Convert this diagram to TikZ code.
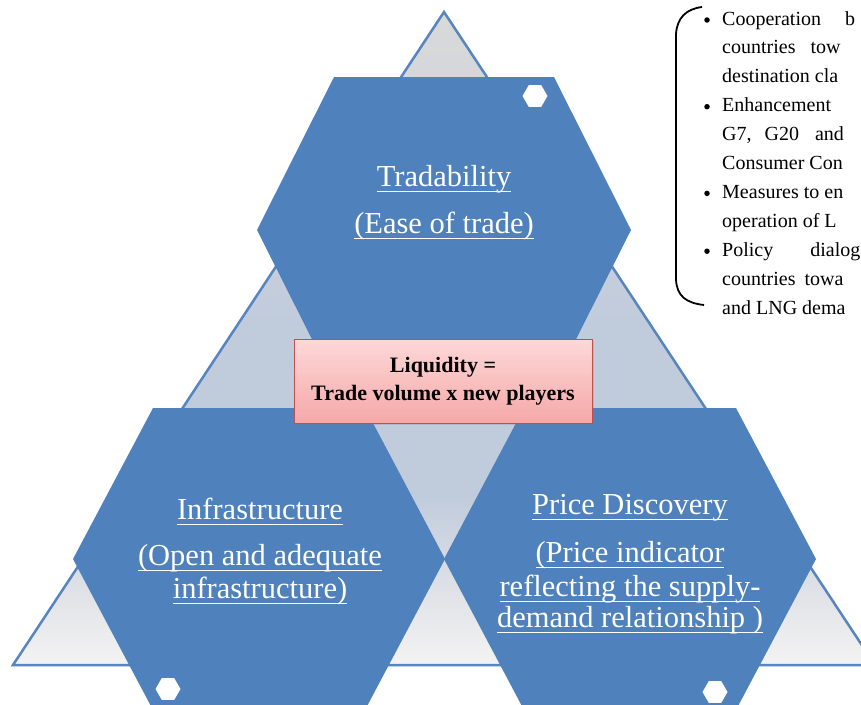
\documentclass[tikz,border=0pt]{standalone}
\usepackage{fontspec}
\setmainfont{Liberation Serif}
\usetikzlibrary{shapes.geometric, shadows}

\newsavebox{\ulbox}
\newcommand{\hexul}[1]{\sbox{\ulbox}{#1}%
  \rlap{\rule[-6pt]{\wd\ulbox}{1.3pt}}\usebox{\ulbox}}

\definecolor{hexblue}{RGB}{79,129,189}
\definecolor{triedge}{RGB}{86,133,192}
\definecolor{trilow}{RGB}{243,243,243}
\definecolor{trifoot}{RGB}{230,231,234}
\definecolor{triblue}{RGB}{192,203,220}
\definecolor{trihigh}{RGB}{207,211,219}
\definecolor{tritop}{RGB}{217,217,217}
\definecolor{boxtop}{RGB}{253,216,216}
\definecolor{boxbot}{RGB}{245,168,168}
\definecolor{boxedge}{RGB}{190,80,77}

\pgfdeclareverticalshading{trishade}{100bp}{color(0bp)=(trilow);
  color(25bp)=(trilow); color(29bp)=(trifoot); color(38bp)=(triblue);
  color(51bp)=(triblue); color(63bp)=(trihigh); color(75bp)=(tritop);
  color(100bp)=(tritop)}

\begin{document}
\begin{tikzpicture}[x=1pt, y=-1pt, inner sep=0pt,
    hexpanel/.style={fill=hexblue, draw=none},
    minihex/.style={regular polygon, regular polygon sides=6, fill=white,
      minimum size=25pt},
    hextext/.style={anchor=base, text=white,
      font=\fontsize{30.5}{33}\selectfont},
    liqbox/.style={draw=boxedge, line width=0.8pt, top color=boxtop,
      bottom color=boxbot, minimum width=298pt, minimum height=84pt,
      align=center, font=\bfseries\fontsize{22}{28}\selectfont,
      drop shadow={opacity=0.25}},
    notetext/.style={anchor=base west, font=\fontsize{20}{24}\selectfont},
    notebullet/.style={circle, fill=black, minimum size=5.5pt}]

  \useasboundingbox (0,0) rectangle (861,704);
  \clip (0,0) rectangle (861,704);

  % background triangle
  \path[shading=trishade, draw=triedge, line width=2.5pt, line join=miter]
  (444,12) -- (13,665) -- (875,665) -- cycle;

  % the three hexagons
  \path[hexpanel] (334,77) -- (554,77) -- (631,230) -- (554,383)
  -- (334,383) -- (257,230) -- cycle;
  \path[hexpanel] (153,408) -- (365,408) -- (445,559) -- (365,710)
  -- (153,710) -- (73,559) -- cycle;
  \path[hexpanel] (524,408) -- (736,408) -- (816,559) -- (736,710)
  -- (524,710) -- (444,559) -- cycle;

  \node[minihex] (trademark) at (535,96) {};
  \node[minihex] (inframark) at (168,689) {};
  \node[minihex] (pricemark) at (715,692) {};

  % hexagon texts
  \node[hextext] (trade1) at (444,186) {\hexul{Tradability}};
  \node[hextext] (trade2) at (444,233) {\hexul{(Ease of trade)}};

  \node[hextext] (infra1) at (260,519) {\hexul{Infrastructure}};
  \node[hextext] (infra2) at (260,565) {\hexul{(Open and adequate}};
  \node[hextext] (infra3) at (260,598) {\hexul{infrastructure)}};

  \node[hextext] (price1) at (630,514) {\hexul{Price Discovery}};
  \node[hextext] (price2) at (630,562) {\hexul{(Price indicator}};
  \node[hextext] (price3) at (630,596) {\hexul{reflecting the supply-}};
  \node[hextext] (price4) at (630,627) {\hexul{demand relationship )}};

  % liquidity box
  \node[liqbox] (liquidity) at (443,381) {Liquidity =\\Trade volume x new players};

  % measures on the right
  \draw[line width=1.8pt] (702,7) .. controls (686,9) and (677,18) .. (676,34)
  -- (676,280) .. controls (677,296) and (686,303) .. (704,305);

  \foreach \txt [count=\i] in {{Cooperation\hspace{24pt}b},
      {countries\hspace{15pt}tow}, {destination cla}, {Enhancement},
      {G7,\hspace{13pt}G20\hspace{16pt}and}, {Consumer Con}, {Measures to en},
      {operation of L}, {Policy\hspace{37pt}dialog},
      {countries\hspace{9pt}towa}, {and LNG dema}}
  \node[notetext] (note\i) at (722,{25+28.9*(\i-1)}) {\txt};

  \foreach \i in {1,4,7,9}
  \node[notebullet] (bullet\i) at (707,{20+28.9*(\i-1)}) {};
\end{tikzpicture}
\end{document}
